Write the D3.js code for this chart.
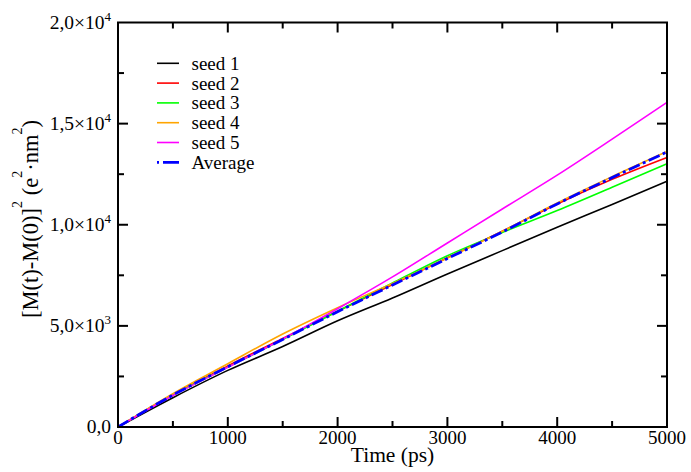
<!DOCTYPE html>
<html><head><meta charset="utf-8">
<script src="https://cdn.jsdelivr.net/npm/d3@7"></script>
<style>body{margin:0;background:#fff}svg{display:block}text{font-family:"Liberation Serif","Times New Roman",serif;fill:#000}</style>
</head><body><svg id="c" width="691" height="472"></svg>
<script>
const times = [0,500,1000,1500,2000,2500,3000,3500,4000,4500,5000];
const seed1 = [0,1450,2800,3980,5250,6380,7570,8720,9880,11000,12150];
const seed2 = [0,1600,3020,4380,5720,7050,8370,9680,11030,12250,13330];
const seed3 = [0,1580,2960,4320,5720,7120,8470,9620,10700,11850,13020];
const seed4 = [0,1650,3130,4600,5900,7100,8350,9680,11080,12380,13620];
const seed5 = [0,1560,2950,4350,5850,7420,9100,10780,12450,14230,16050];
const average = [0,1580,2980,4330,5700,7020,8330,9640,11030,12330,13600];
const seriesNames = ["seed 1","seed 2","seed 3","seed 4","seed 5","Average"];
const seriesColors = ["#000000","#ff0000","#00ff00","#ffa500","#ff00ff","#0000ff"];
const xTicks = [0,1000,2000,3000,4000,5000];
const xTickLabels = ["0","1000","2000","3000","4000","5000"];
const yTicks = [0,5000,10000,15000,20000];
const yTickMant = ["0,0","5,0×10","1,0×10","1,5×10","2,0×10"];
const yTickExp = ["","3","4","4","4"];

const svg = d3.select("#c");
const L=118,R=667,T=22.5,B=427;
const x = d3.scaleLinear().domain([0,5000]).range([L,R]);
const y = d3.scaleLinear().domain([0,20000]).range([B,T]);

const allSeries = [seed1,seed2,seed3,seed4,seed5,average];
const line = d3.line().x((d,i)=>x(times[i])).y(d=>y(d)).curve(d3.curveMonotoneX);
const gl = svg.append("g");
allSeries.forEach((s,k)=>{
  const p = gl.append("path").datum(s).attr("d",line).attr("fill","none")
    .attr("stroke",seriesColors[k]).attr("stroke-width",k===5?2.8:1.6);
  if(k===5) p.attr("stroke-dasharray","12,3.5,3,3.5");
});

svg.append("rect").attr("x",L).attr("y",T).attr("width",R-L).attr("height",B-T)
  .attr("fill","none").attr("stroke","#000").attr("stroke-width",2);

const xMinor = d3.range(500,5000,1000);
const yMinor = d3.range(2500,20000,5000);
const tg = svg.append("g").attr("stroke","#000").attr("stroke-width",2);
xTicks.slice(1,-1).forEach(t=>{
  tg.append("line").attr("x1",x(t)).attr("x2",x(t)).attr("y1",B).attr("y2",B-10);
  tg.append("line").attr("x1",x(t)).attr("x2",x(t)).attr("y1",T).attr("y2",T+10);
});
xMinor.forEach(t=>{
  tg.append("line").attr("x1",x(t)).attr("x2",x(t)).attr("y1",B).attr("y2",B-6);
  tg.append("line").attr("x1",x(t)).attr("x2",x(t)).attr("y1",T).attr("y2",T+6);
});
yTicks.slice(1,-1).forEach(t=>{
  tg.append("line").attr("x1",L).attr("x2",L+10).attr("y1",y(t)).attr("y2",y(t));
  tg.append("line").attr("x1",R).attr("x2",R-10).attr("y1",y(t)).attr("y2",y(t));
});
yMinor.forEach(t=>{
  tg.append("line").attr("x1",L).attr("x2",L+6).attr("y1",y(t)).attr("y2",y(t));
  tg.append("line").attr("x1",R).attr("x2",R-6).attr("y1",y(t)).attr("y2",y(t));
});

xTicks.forEach((t,i)=>{
  svg.append("text").attr("x",x(t)).attr("y",443.5).attr("text-anchor","middle")
    .attr("font-size",19).text(xTickLabels[i]);
});
svg.append("text").attr("x",(L+R)/2).attr("y",461.5).attr("text-anchor","middle")
  .attr("font-size",21.5).text("Time (ps)");

yTicks.forEach((t,i)=>{
  const tx = svg.append("text").attr("x",111).attr("y",y(t)+6).attr("text-anchor","end").attr("font-size",19.5);
  tx.append("tspan").text(yTickMant[i]);
  if(yTickExp[i]) tx.append("tspan").attr("font-size",13).attr("dy",-8).text(yTickExp[i]);
});

const yl = svg.append("text").attr("transform","translate(38,219) rotate(-90)")
  .attr("text-anchor","middle").attr("font-size",22.5);
const up = -16;
yl.append("tspan").text("[M(t)-M(0)]");
yl.append("tspan").attr("font-size",14).attr("dy",up).text("2");
yl.append("tspan").attr("dy",-up).text(" (e");
yl.append("tspan").attr("font-size",14).attr("dy",up).text("2");
yl.append("tspan").attr("dy",-up).text("·nm");
yl.append("tspan").attr("font-size",14).attr("dy",up).text("2");
yl.append("tspan").attr("dy",-up).text(")");

const lg = svg.append("g");
seriesNames.forEach((n,i)=>{
  const yy = 63.3 + i*19.8;
  const ln = lg.append("line").attr("x1",157).attr("x2",179).attr("y1",yy).attr("y2",yy)
    .attr("stroke",seriesColors[i]).attr("stroke-width",i===5?2.8:1.6);
  if(i===5) ln.attr("stroke-dasharray","2,4,16,4");
  lg.append("text").attr("x",191.5).attr("y",yy+6.5).attr("font-size",19).text(n);
});
</script></body></html>
